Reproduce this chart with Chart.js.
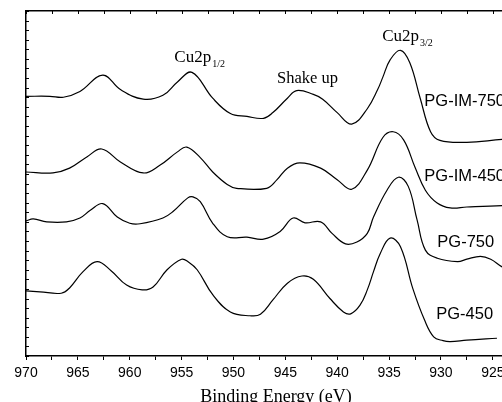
<!DOCTYPE html>
<html>
<head>
<meta charset="utf-8">
<script src="https://cdn.jsdelivr.net/npm/chart.js@4.4.1/dist/chart.umd.min.js"></script>
<style>
html,body{margin:0;padding:0;overflow:hidden;background:#fff}
canvas{display:block}
</style>
</head>
<body>
<canvas id="grafico" width="540" height="412"></canvas>
<script>

// eixo x (eV) e intensidade, uma lista por amostra
const energiaIM750=[970,967.7,966.4,964.8,962.6,960.9,958.7,956.8,955.4,954.0,952.0,950.3,948.7,947.1,946.2,944.8,943.9,942.3,941.4,940.0,938.6,937.1,936.1,935.6,934.9,933.9,933.0,932.0,931.0,930.1,927.5,924.1,922]
const intensIM750=[27.1,27.1,27.0,27.6,29.3,27.8,26.8,27.2,28.6,29.6,26.9,25.3,25.0,24.8,25.4,26.9,27.7,27.3,26.8,25.4,24.2,25.8,27.8,29.1,30.9,31.9,30.6,26.9,23.4,22.5,22.3,22.6,22.7]

const energiaIM450=[970,967.4,965.8,964.1,962.7,960.9,958.7,957.1,955.4,954.5,953.2,952.0,950.6,949.7,946.8,945.8,944.8,943.6,941.6,940.0,938.6,937.1,935.6,934.6,933.6,932.5,931.5,930.4,929.1,927.5,924.1,922]
const intensIM450=[19.2,19.1,19.6,20.8,21.6,20.25,19.1,19.9,21.3,21.8,20.7,19.2,17.9,17.5,17.5,18.4,19.6,20.15,19.6,18.4,17.4,19.4,22.8,23.4,22.55,19.7,17.3,16.0,15.45,15.55,15.7,15.7]

const energia750=[970,969.3,968.0,966.1,964.8,963.8,962.6,961.2,960.0,959.0,956.8,955.8,954.4,953.9,953.2,952.0,950.6,948.7,947.1,945.5,944.25,943.1,941.6,940.5,939.2,938.1,937.1,936.5,935.2,934.1,933.15,932.3,931.5,930.35,928.4,927.5,926.2,925.2,924.1,923]
const intens750=[14.1,14.3,14.0,14.0,14.4,15.2,15.9,14.5,13.85,13.8,14.4,15.1,16.5,16.6,16.1,13.85,12.45,12.4,12.2,13.0,14.4,13.9,14.0,12.8,11.7,11.9,12.8,14.5,17.3,18.65,17.7,14.2,11.05,10.2,9.85,10.1,10.4,10.1,9.3,8.8]

const energia450=[970,968.65,966.6,965.8,964.5,963.15,961.8,960.3,958.8,957.75,956.4,955.0,954.4,953.5,952.0,950.3,948.4,947.4,946.2,944.8,943.4,942.3,940.7,939.4,938.7,937.8,937.1,936.5,935.85,934.9,933.9,932.7,931.6,930.7,929.8,929.1,927.5,924.6]
const intens450=[6.8,6.7,6.55,7.1,8.8,9.85,8.9,7.4,6.9,7.2,9.0,10.1,9.85,9.0,6.4,4.6,4.2,4.35,5.85,7.6,8.35,8.0,6.0,4.6,4.4,5.3,6.9,8.8,10.7,12.3,11.4,7.0,3.8,2.0,1.6,1.5,1.65,1.85]

const ticksEnergia=[970,967.5,965,962.5,960,957.5,955,952.5,950,947.5,945,942.5,940,937.5,935,932.5,930,927.5,925,922.5]

const nomesAmostras=["PG-IM-750","PG-IM-450","PG-750","PG-450"]

function pontos(xs,ys){
return xs.map((x,i)=>({x:x,y:ys[i]}))
}

// textos dentro do grafico (posicao em eV / intensidade)
const textos=[
{texto:"Cu2p",sub:"1/2",x:955.7,y:30.7,fonte:"17px 'Liberation Serif'",base:"alphabetic"},
{texto:"Cu2p",sub:"3/2",x:935.66,y:32.9,fonte:"17px 'Liberation Serif'",base:"alphabetic"},
{texto:"Shake up",x:945.8,y:28.5,fonte:"16.5px 'Liberation Serif'",base:"alphabetic"},
{texto:nomesAmostras[0],x:931.6,y:26.6,fonte:"16.5px 'Liberation Sans'",base:"middle"},
{texto:nomesAmostras[1],x:931.6,y:18.7,fonte:"16.5px 'Liberation Sans'",base:"middle"},
{texto:nomesAmostras[2],x:930.35,y:11.8,fonte:"16.5px 'Liberation Sans'",base:"middle"},
{texto:nomesAmostras[3],x:930.45,y:4.3,fonte:"16.5px 'Liberation Sans'",base:"middle"}
]

const marcasInternas={
id:"marcasInternas",
afterDraw(chart){
const ctx=chart.ctx
const area=chart.chartArea
const ey=chart.scales.y
const topo=chart.scales.x2
const ex=chart.scales.x

ctx.save()
ctx.strokeStyle="#000"
ctx.lineWidth=1

ey.ticks.forEach(t=>{
let py=Math.round(ey.getPixelForValue(t.value))+0.5
ctx.beginPath()
ctx.moveTo(area.left,py)
ctx.lineTo(area.left+3,py)
ctx.stroke()
})

topo.ticks.forEach(t=>{
let px=Math.round(topo.getPixelForValue(t.value))+0.5
ctx.beginPath()
ctx.moveTo(px,area.top)
ctx.lineTo(px,area.top+3)
ctx.stroke()
})

ctx.fillStyle="#000"
ctx.textAlign="left"
textos.forEach(t=>{
let px=ex.getPixelForValue(t.x)
let py=ey.getPixelForValue(t.y)
ctx.font=t.fonte
ctx.textBaseline=t.base
ctx.fillText(t.texto,px,py)
if(t.sub){
let w=ctx.measureText(t.texto).width
ctx.font="10px 'Liberation Serif'"
ctx.fillText(t.sub,px+w+1,py+5)
}
})

ctx.restore()
}
}

const linha={borderColor:"#000",borderWidth:1.2,pointRadius:0,fill:false,tension:0.4}

new Chart(document.getElementById("grafico"),{

type:"line",

data:{
datasets:[
{...linha,label:nomesAmostras[0],data:pontos(energiaIM750,intensIM750)},
{...linha,label:nomesAmostras[1],data:pontos(energiaIM450,intensIM450)},
{...linha,label:nomesAmostras[2],data:pontos(energia750,intens750)},
{...linha,label:nomesAmostras[3],data:pontos(energia450,intens450)}
]
},

options:{
responsive:false,
animation:false,
layout:{padding:{left:0,right:14,top:0,bottom:0}},
plugins:{legend:{display:false},tooltip:{enabled:false}},
scales:{
x:{
type:"linear",
position:"bottom",
reverse:true,
min:921.8,
max:970,
afterBuildTicks:s=>{s.ticks=ticksEnergia.map(v=>({value:v}))},
afterFit:s=>{s.height=56},
ticks:{
autoSkip:false,
maxRotation:0,
padding:5,
color:"#000",
font:{family:"'Liberation Sans'",size:14},
callback:v=>v%5===0?String(v):""
},
grid:{display:true,drawOnChartArea:false,drawTicks:true,tickLength:4,color:"#000",lineWidth:1},
border:{display:true,color:"#000",width:1.5},
title:{
display:true,
text:"Binding Energy (eV)",
color:"#000",
font:{family:"'Liberation Serif'",size:18,lineHeight:1},
padding:{top:0,bottom:5.5}
}
},
x2:{
type:"linear",
position:"top",
reverse:true,
min:921.8,
max:970,
afterBuildTicks:s=>{s.ticks=ticksEnergia.map(v=>({value:v}))},
afterFit:s=>{s.height=11},
ticks:{display:false},
grid:{display:false,drawTicks:false},
border:{display:true,color:"#000",width:1.5}
},
y:{
min:0,
max:36,
afterFit:s=>{s.width=26},
ticks:{display:false,stepSize:1},
grid:{display:false,drawTicks:false},
border:{display:true,color:"#000",width:1.5}
}
}
},

plugins:[marcasInternas]

})

</script>
</body>
</html>
